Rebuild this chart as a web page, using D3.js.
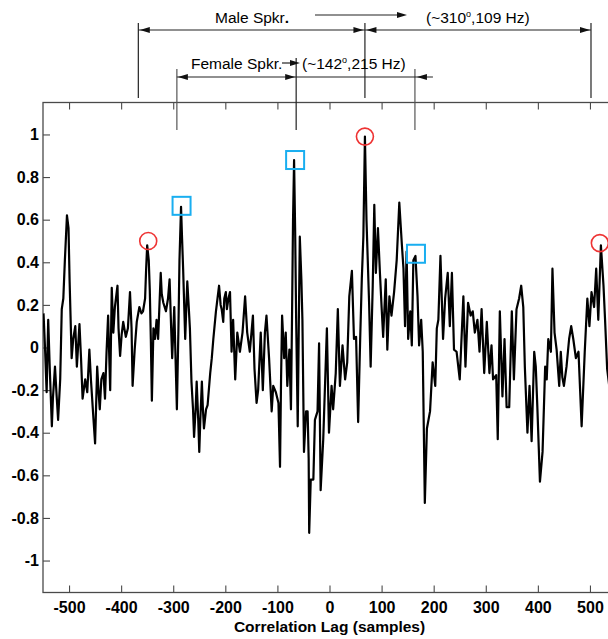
<!DOCTYPE html>
<html>
<head>
<meta charset="utf-8">
<script src="https://cdn.jsdelivr.net/npm/d3@7"></script>
<style>
  body { margin: 0; background: #fff; }
  svg { display: block; font-family: "Liberation Sans", Arial, Helvetica, sans-serif; }
</style>
</head>
<body>
<svg id="chart" width="608" height="639"></svg>
<script>
// Cross-correlation of the two-microphone signal versus lag (samples)
const lags = [
  -549,-546,-543,-540,-537,-533,-531,-527,-524,-521,-517,-514,-511,-508,-504,-501,-499,-495,-492,-488,
  -485,-480,-477,-474,-469,-465,-461,-458,-453,-450,-446,-443,-441,-438,-434,-431,-428,-425,-421,-418,
  -415,-412,-407,-405,-402,-399,-396,-391,-387,-383,-380,-378,-374,-370,-365,-361,-358,-354,-352,-350,
  -347,-345,-343,-341,-338,-335,-332,-329,-324,-322,-319,-314,-310,-307,-304,-302,-298,-296,-293,-290,
  -288,-285,-283,-281,-277,-275,-273,-270,-268,-265,-262,-260,-257,-255,-252,-250,-248,-245,-243,-241,
  -237,-234,-229,-226,-223,-218,-215,-212,-209,-207,-204,-202,-199,-197,-194,-191,-188,-185,-181,-177,
  -172,-167,-162,-158,-153,-147,-144,-140,-137,-132,-128,-124,-121,-116,-111,-108,-103,-98,-95,-93,
  -91,-87,-84,-81,-77,-74,-72,-70,-68,-66,-64,-61,-59,-57,-54,-52,-49,-45,-42,-40,
  -39,-36,-31,-28,-23,-20,-17,-12,-5,-1,4,7,12,16,20,25,30,34,38,43,
  47,51,55,59,62,65,68,71,76,79,83,86,89,93,97,100,103,108,111,115,
  119,124,129,134,139,142,145,148,151,155,158,161,165,169,172,176,179,183,187,193,
  198,203,206,209,213,218,222,227,231,235,239,244,250,257,261,266,271,275,279,284,
  288,292,297,302,307,311,314,320,323,327,332,336,340,345,350,354,359,364,368,372,
  375,380,384,388,393,396,399,404,409,414,417,420,425,428,432,436,441,444,447,450,
  455,460,464,468,473,478,484,490,495,499,503,508,512,516,521,526,529,533,538
];
const corr = [
  0.16,-0.01,-0.21,0.13,-0.10,-0.37,-0.24,-0.09,-0.22,-0.34,-0.15,0.18,0.23,0.41,0.62,0.56,0.32,-0.05,0.04,0.10,
  -0.09,0.11,-0.05,-0.24,-0.15,-0.21,-0.01,-0.15,-0.34,-0.45,-0.09,-0.22,-0.29,-0.15,-0.12,-0.24,-0.02,0.15,-0.20,0.28,
  0.07,0.19,0.29,0.09,-0.04,0.06,0.12,0.05,0.09,0.26,0.09,-0.18,-0.01,0.12,0.19,0.16,0.17,0.23,0.37,0.48,
  0.41,0.27,0.04,-0.25,0.09,0.04,0.13,0.04,0.35,0.25,0.21,0.17,0.23,0.32,0.09,-0.05,0.19,-0.01,-0.29,0.09,
  0.41,0.66,0.51,0.37,0.04,0.18,0.31,0.18,0.09,-0.16,-0.29,-0.42,-0.29,-0.16,-0.34,-0.49,-0.34,-0.16,-0.29,-0.38,
  -0.29,-0.27,-0.12,-0.05,0.04,0.17,0.23,0.29,0.20,0.18,0.12,0.23,0.26,0.18,0.23,0.26,-0.02,0.13,-0.15,0.07,
  -0.02,0.07,0.24,0.07,-0.02,0.15,-0.10,-0.26,-0.20,0.07,-0.20,0.07,0.15,-0.05,-0.30,-0.18,-0.21,-0.26,-0.56,-0.15,
  0.15,-0.05,0.07,-0.18,-0.01,-0.29,0.13,0.60,0.88,0.56,0.13,-0.37,0.09,0.52,0.32,0.13,-0.49,-0.30,-0.30,-0.52,
  -0.87,-0.62,-0.62,-0.34,-0.30,0.02,-0.67,-0.43,0.09,-0.40,-0.18,-0.29,-0.12,0.18,-0.18,0.01,-0.15,-0.07,0.24,0.36,
  0.04,0.05,-0.35,0.05,0.32,0.52,0.99,0.60,0.21,-0.09,0.29,0.67,0.35,0.56,0.34,0.19,0.05,0.32,-0.01,0.24,
  0.15,0.26,0.41,0.68,0.48,0.37,0.10,0.45,0.04,0.17,0.01,0.41,0.43,0.24,0.01,0.13,-0.02,-0.73,-0.38,-0.30,
  -0.07,-0.18,0.09,0.13,0.43,0.04,0.23,0.35,0.10,0.35,-0.01,-0.02,-0.15,0.24,-0.09,0.21,0.15,0.17,0.07,0.13,
  -0.02,0.18,-0.12,0.12,-0.12,0.01,-0.15,-0.13,-0.43,0.17,-0.23,0.04,-0.28,-0.28,0.17,-0.15,0.18,0.23,0.29,0.19,
  -0.09,-0.40,-0.18,-0.44,-0.02,-0.09,-0.28,-0.63,-0.49,-0.09,-0.15,0.04,-0.02,0.37,0.07,-0.01,-0.18,-0.02,-0.14,-0.18,
  -0.09,0.04,0.10,0.04,-0.05,-0.02,-0.37,-0.02,0.23,0.10,0.26,0.19,0.37,0.13,0.48,0.29,0.13,-0.10,-0.20
];

// Axis ticks
const xTicks = [-500, -400, -300, -200, -100, 0, 100, 200, 300, 400, 500];
const yTicks = [-1, -0.8, -0.6, -0.4, -0.2, 0, 0.2, 0.4, 0.6, 0.8, 1];

// Highlighted peaks: male speaker (circles) and female speaker (squares)
const maleLagsPk = [-348, 68, 519];
const maleValsPk = [0.50, 0.99, 0.49];
const femaleLagsPk = [-284, -66, 166];
const femaleValsPk = [0.665, 0.88, 0.44];

// Pitch-period brackets (lag positions)
const maleBracket = [-367, 68, 502];
const femaleBracket = [-293, -64, 164];

const svg = d3.select("#chart");
const plotL = 43, plotR = 616, plotT = 102.5, plotB = 592.5;

const x = d3.scaleLinear().domain([-550, 550]).range([plotL, plotR]);
const y = d3.scaleLinear().domain([-1.15, 1.15]).range([plotB, plotT]);

const fmt = d => String(+d.toFixed(1)).replace("\u2212", "-");
const axisColor = "#4a4a4a";

function styleAxis(g) {
  g.select(".domain").remove();
  g.selectAll(".tick line").attr("stroke", axisColor).attr("stroke-width", 1.1);
  g.selectAll(".tick text")
    .attr("fill", "#000")
    .style("font-family", "'Liberation Sans', Arial, sans-serif")
    .style("font-size", "16px")
    .style("font-weight", "bold");
}

// Bottom axis
svg.append("g")
  .attr("transform", `translate(0,${plotB})`)
  .call(d3.axisBottom(x).tickValues(xTicks).tickSize(-7).tickPadding(9).tickFormat(fmt))
  .call(styleAxis);
// Top axis (ticks only)
svg.append("g")
  .attr("transform", `translate(0,${plotT})`)
  .call(d3.axisTop(x).tickValues(xTicks).tickSize(-7).tickFormat(""))
  .call(styleAxis);
// Left axis
svg.append("g")
  .attr("transform", `translate(${plotL},0)`)
  .call(d3.axisLeft(y).tickValues(yTicks).tickSize(-7).tickPadding(4).tickFormat(fmt))
  .call(styleAxis);
// Right axis (ticks only)
svg.append("g")
  .attr("transform", `translate(${plotR},0)`)
  .call(d3.axisRight(y).tickValues(yTicks).tickSize(-7).tickFormat(""))
  .call(styleAxis);

// Plot frame
svg.append("rect")
  .attr("x", plotL).attr("y", plotT)
  .attr("width", plotR - plotL).attr("height", plotB - plotT)
  .attr("fill", "none").attr("stroke", axisColor).attr("stroke-width", 1.3);

// Axis title
svg.append("text")
  .attr("x", (plotL + plotR) / 2).attr("y", 631.5)
  .attr("text-anchor", "middle")
  .style("font-size", "15.5px").style("font-weight", "bold")
  .text("Correlation Lag (samples)");

// Correlation curve
svg.append("defs").append("clipPath").attr("id", "plotClip")
  .append("rect").attr("x", plotL).attr("y", plotT)
  .attr("width", plotR - plotL).attr("height", plotB - plotT);

const pts = lags.map((l, i) => [l, corr[i]]);
svg.append("path")
  .datum(pts)
  .attr("clip-path", "url(#plotClip)")
  .attr("fill", "none")
  .attr("stroke", "#000")
  .attr("stroke-width", 2.2)
  .attr("stroke-linejoin", "round")
  .attr("d", d3.line().x(d => x(d[0])).y(d => y(d[1])));

// Peak markers
svg.selectAll(".pk-male")
  .data(maleLagsPk.map((l, i) => [l, maleValsPk[i]]))
  .join("circle")
  .attr("class", "pk-male")
  .attr("cx", d => x(d[0])).attr("cy", d => y(d[1])).attr("r", 8.5)
  .attr("fill", "none").attr("stroke", "#ee3333").attr("stroke-width", 1.6);

svg.selectAll(".pk-female")
  .data(femaleLagsPk.map((l, i) => [l, femaleValsPk[i]]))
  .join("rect")
  .attr("class", "pk-female")
  .attr("x", d => x(d[0]) - 9).attr("y", d => y(d[1]) - 9)
  .attr("width", 18).attr("height", 18)
  .attr("fill", "none").attr("stroke", "#19aef0").attr("stroke-width", 2);

// Annotation helpers
const ann = svg.append("g").attr("stroke", "#222").attr("stroke-width", 1.2);
function hline(x1, x2, yy) {
  ann.append("line").attr("x1", x1).attr("x2", x2).attr("y1", yy).attr("y2", yy);
}
function vline(xx, y1, y2, color) {
  ann.append("line").attr("x1", xx).attr("x2", xx).attr("y1", y1).attr("y2", y2)
    .attr("stroke", color || "#222");
}
function head(tip, yy, dir) {
  // dir: -1 points left, +1 points right
  const b = tip - dir * 10;
  svg.append("path")
    .attr("d", `M${tip},${yy}L${b},${yy - 3}L${b},${yy + 3}Z`)
    .attr("fill", "#111");
}

// Male speaker bracket
const my = 30;
maleBracket.forEach(l => vline(x(l), 23, 98, "#222"));
hline(x(maleBracket[0]), x(maleBracket[1]), my);
hline(x(maleBracket[1]), x(maleBracket[2]), my);
head(x(maleBracket[0]) + 1.5, my, -1);
head(x(maleBracket[1]) - 1.5, my, 1);
head(x(maleBracket[1]) + 1.5, my, -1);
head(x(maleBracket[2]) - 1, my, 1);

// Female speaker bracket
const fy = 77;
vline(x(femaleBracket[0]), 69, 130, "#555");
vline(x(femaleBracket[1]), 58, 130, "#222");
vline(x(femaleBracket[2]), 69, 130, "#555");
hline(x(femaleBracket[0]), x(femaleBracket[1]), fy);
hline(x(femaleBracket[1]), x(femaleBracket[2]) + 18, fy);
head(x(femaleBracket[0]) + 1, fy, -1);
head(x(femaleBracket[1]) - 1, fy, 1);
head(x(femaleBracket[2]) + 2, fy, -1);

// Labels
const lab = svg.append("g").style("font-size", "15.5px").attr("fill", "#000");

const maleT = lab.append("text").attr("x", 215).attr("y", 23);
maleT.append("tspan").text("Male Spkr");
maleT.append("tspan").style("font-weight", "bold").text(".");
hline(315, 398, 15);
head(407, 15, 1);

const maleV = lab.append("text").attr("x", 426).attr("y", 23);
maleV.append("tspan").text("(~310");
maleV.append("tspan").attr("dy", -6).style("font-size", "9px").text("o");
maleV.append("tspan").attr("dy", 6).text(",109 Hz)");

lab.append("text").attr("x", 191).attr("y", 69).text("Female Spkr.");
hline(282, 292, 63);
head(300, 63, 1);

const femV = lab.append("text").attr("x", 302).attr("y", 69);
femV.append("tspan").text("(~142");
femV.append("tspan").attr("dy", -6).style("font-size", "9px").text("o");
femV.append("tspan").attr("dy", 6).text(",215 Hz)");
</script>
</body>
</html>
